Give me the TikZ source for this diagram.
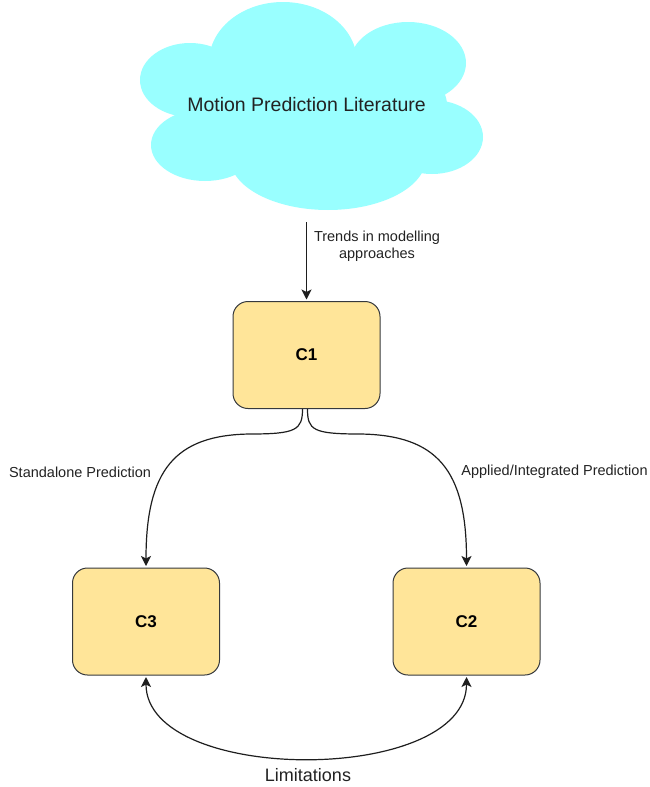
\documentclass[tikz,border=0pt]{standalone}
\usepackage{fontspec}
\setmainfont{Liberation Sans}
\usetikzlibrary{arrows.meta}
\definecolor{cloudfill}{RGB}{153,255,255}
\definecolor{boxfill}{RGB}{255,229,153}
\definecolor{boxline}{RGB}{54,57,61}
\definecolor{inktext}{RGB}{34,34,34}
\definecolor{wire}{RGB}{30,30,30}
\begin{document}
\begin{tikzpicture}[x=1pt,y=-1pt,
  cluster/.style={draw=boxline, fill=boxfill, line width=1pt, rounded corners=15pt,
    minimum width=147pt, minimum height=107pt,
    font=\fontsize{17}{20}\selectfont\bfseries, text=black},
  tip/.tip={Stealth[length=10pt,width=10pt,inset=2.5pt]},
  link/.style={draw=wire, line width=1.2pt, -tip, shorten >=1.5pt},
  duallink/.style={draw=wire, line width=1.2pt, tip-tip, shorten >=1.5pt, shorten <=1.5pt},
  edgetext/.style={font=\fontsize{14.5}{17}\selectfont, text=inktext, align=center, inner sep=0pt},
  puff/.style={fill=cloudfill, draw=none}]

\useasboundingbox (0,0) rectangle (650,787);

% cloud made of overlapping puffs
\fill[puff] (190,80) ellipse [x radius=50pt, y radius=37pt];
\fill[puff] (283,62) ellipse [x radius=74pt, y radius=60pt];
\fill[puff] (408,63) ellipse [x radius=58pt, y radius=41pt];
\fill[puff] (432,137) ellipse [x radius=51pt, y radius=37pt];
\fill[puff] (205,145) ellipse [x radius=54pt, y radius=36pt];
\fill[puff] (328,158) ellipse [x radius=98pt, y radius=52pt];
\fill[puff] (312,105) ellipse [x radius=135pt, y radius=60pt];

\node[minimum width=340pt, minimum height=210pt, inner sep=0pt,
      font=\fontsize{19.5}{22}\selectfont, text=inktext] (lit) at (306.5,105) {Motion Prediction Literature};

% category boxes
\node[cluster] (c1) at (306.5,355) {C1};
\node[cluster] (c3) at (146,621.5) {C3};
\node[cluster] (c2) at (466.5,621.5) {C2};

% connectors
\draw[link, shorten <=12pt] (lit.south) -- (c1.north);
\node[edgetext] (trend) at (377,246) {Trends in modelling\\approaches};

\draw[link] ([xshift=-4pt]c1.south) .. controls ([xshift=-4pt]c1.south |- 0,430) and (296,434) .. (250,434)
  .. controls (175,435) and (146,470) .. (c3.north);
\draw[link] ([xshift=1pt]c1.south) .. controls ([xshift=1pt]c1.south |- 0,430) and (313,434) .. (360,434)
  .. controls (437,435) and (466.5,470) .. (c2.north);

\node[edgetext] (alone) at (80,472) {Standalone Prediction};
\node[edgetext] (applied) at (554.5,472) {Applied/Integrated Prediction};

\draw[duallink] (c3.south) .. controls (146,785) and (466.5,785) .. (c2.south);
\node[edgetext, font=\fontsize{18}{21}\selectfont] (limits) at (308,775) {Limitations};

\end{tikzpicture}
\end{document}
